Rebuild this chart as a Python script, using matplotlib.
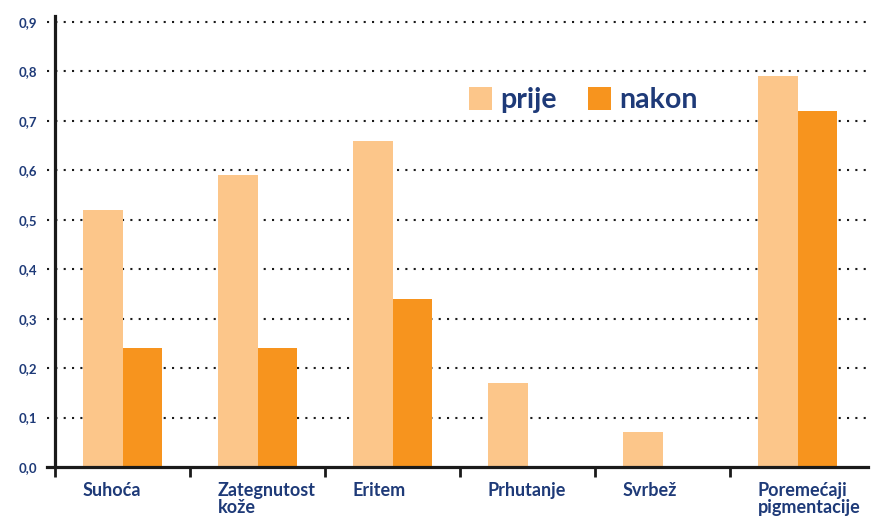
import numpy as np
import matplotlib.pyplot as plt

categories = ["Suhoća", "Zategnutost\nkože", "Eritem", "Prhutanje", "Svrbež", "Poremećaji\npigmentacije"]
prije = [0.52, 0.59, 0.66, 0.17, 0.07, 0.79]
nakon = [0.24, 0.24, 0.34, 0.0, 0.0, 0.72]
yticks = [0.0, 0.1, 0.2, 0.3, 0.4, 0.5, 0.6, 0.7, 0.8, 0.9]
ytick_labels = ["0,0", "0,1", "0,2", "0,3", "0,4", "0,5", "0,6", "0,7", "0,8", "0,9"]

light = "#FCC68A"
dark = "#F7941E"
blue = "#1E3A78"

plt.rcParams["font.family"] = ["Lato", "DejaVu Sans"]
plt.rcParams["font.weight"] = "bold"

W, H = 871, 523
fig = plt.figure(figsize=(W / 100, H / 100), dpi=100)
ax = fig.add_axes([47 / W, (H - 467) / H, (868 - 47) / W, (467 - 16) / H])

x = np.arange(len(categories))
w = 0.296
ax.bar(x - w, prije, w, align="edge", color=light, label="prije", zorder=3)
ax.bar(x, nakon, w, align="edge", color=dark, label="nakon", zorder=3)

ax.set_xlim(-0.5 - 8 / 135, 5.5 + 3 / 135)
ax.set_ylim(0, 0.912)

for s in ["top", "right"]:
    ax.spines[s].set_visible(False)
ax.spines["left"].set_position(("data", -0.5))
for s in ["left", "bottom"]:
    ax.spines[s].set_linewidth(2.3)
    ax.spines[s].set_color("#1a1a1a")
    ax.spines[s].set_zorder(4)

ax.set_yticks(yticks)
ax.set_yticklabels(ytick_labels)
ax.tick_params(axis="y", length=0, pad=13, labelsize=9.5, labelcolor=blue)
for v in yticks[1:]:
    ax.axhline(v, color="#1a1a1a", linewidth=1.5, linestyle=(0, (1, 3)), zorder=1)

# boundary ticks (major) and category labels (minor, left-aligned at bar start)
ax.set_xticks(np.arange(-0.5, 5.0, 1.0))
ax.set_xticklabels([])
ax.tick_params(axis="x", which="major", length=7.5, width=2, color="#1a1a1a")
ax.set_xticks(x - w, minor=True)
ax.set_xticklabels(categories, minor=True, ha="left", fontsize=13, color=blue, linespacing=1.0)
ax.tick_params(axis="x", which="minor", length=0, pad=11)

ax.legend(loc="center left", bbox_to_anchor=(469 / W, (H - 100) / H),
          bbox_transform=fig.transFigure, ncol=2, frameon=False,
          fontsize=20.5, labelcolor=blue, handlelength=0.8, handleheight=0.85,
          handletextpad=0.3, columnspacing=1.1, borderpad=0, borderaxespad=0)

fig.savefig("out.png", dpi=100)
